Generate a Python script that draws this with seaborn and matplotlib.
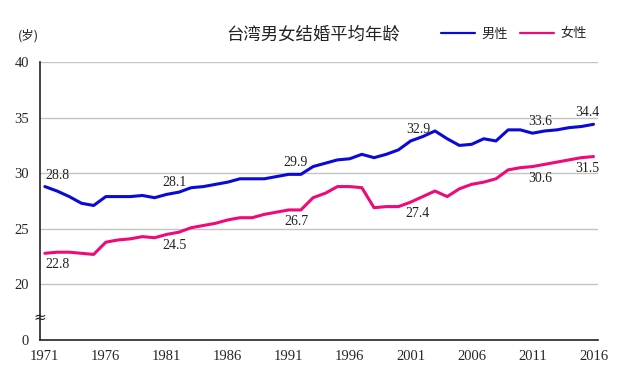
import pandas as pd
import seaborn as sns
import matplotlib.pyplot as plt
from matplotlib.lines import Line2D

years = list(range(1971, 2017))
male = [28.8, 28.4, 27.9, 27.3, 27.1, 27.9, 27.9, 27.9, 28.0, 27.8,
        28.1, 28.3, 28.7, 28.8, 29.0, 29.2, 29.5, 29.5, 29.5, 29.7,
        29.9, 29.9, 30.6, 30.9, 31.2, 31.3, 31.7, 31.4, 31.7, 32.1,
        32.9, 33.3, 33.8, 33.1, 32.5, 32.6, 33.1, 32.9, 33.9, 33.9,
        33.6, 33.8, 33.9, 34.1, 34.2, 34.4]
female = [22.8, 22.9, 22.9, 22.8, 22.7, 23.8, 24.0, 24.1, 24.3, 24.2,
          24.5, 24.7, 25.1, 25.3, 25.5, 25.8, 26.0, 26.0, 26.3, 26.5,
          26.7, 26.7, 27.8, 28.2, 28.8, 28.8, 28.7, 26.9, 27.0, 27.0,
          27.4, 27.9, 28.4, 27.9, 28.6, 29.0, 29.2, 29.5, 30.3, 30.5,
          30.6, 30.8, 31.0, 31.2, 31.4, 31.5]
label_years = [1971, 1981, 1991, 2001, 2011, 2016]
series_names = ['男性', '女性']

df = pd.DataFrame({
    'year': years * 2,
    'age': male + female,
    'sex': [series_names[0]] * len(years) + [series_names[1]] * len(years),
})

sns.set_style('white')
plt.rcParams['font.family'] = ['Noto Sans CJK SC', 'DejaVu Sans']

blue = '#0a0ad8'
pink = '#ee0a78'
serif = 'Liberation Serif'

fig = plt.figure(figsize=(6.4, 3.77), dpi=100)
ax = fig.add_axes([0.0625, 0.098, 0.8715, 0.7375])

sns.lineplot(data=df, x='year', y='age', hue='sex',
             palette=[blue, pink], linewidth=2.2, legend=False, ax=ax)

ax.set_xlim(1970.6, 2016.35)
ax.set_ylim(15, 40)
ax.set_yticks([15, 20, 25, 30, 35, 40])
ax.set_yticklabels(['0', '20', '25', '30', '35', '40'], family=serif, fontsize=10.5)
ax.set_xticks(list(range(1971, 2017, 5)))
ax.set_xticks(years, minor=True)
ax.set_xticklabels([str(y) for y in range(1971, 2017, 5)], family=serif, fontsize=10.5)
ax.tick_params(axis='x', which='both', direction='in', length=3, width=0.8, pad=7)
ax.tick_params(axis='y', direction='out', length=2, width=0.8, pad=6)
ax.set_xlabel('')
ax.set_ylabel('')

for v in [20, 25, 30, 35, 40]:
    ax.axhline(v, color='#c4c4c4', linewidth=1, zorder=0)

for s in ['top', 'right']:
    ax.spines[s].set_visible(False)
for s in ['left', 'bottom']:
    ax.spines[s].set_color('#222222')
    ax.spines[s].set_linewidth(1.2)

# axis break mark
ax.text(1970.6, 17.0, '≈', ha='center', va='center', fontsize=11,
        color='#222222', family='DejaVu Sans')

# value labels
for y in label_years:
    i = years.index(y)
    m, f = male[i], female[i]
    dx = 1.0 if y == 1971 else (-0.5 if y == 2016 else 0.6)
    ax.text(y + dx, m + 0.45, f'{m:.1f}', ha='center', va='bottom',
            family=serif, fontsize=10, color='#222222')
    ax.text(y + dx, f - 0.45, f'{f:.1f}', ha='center', va='top',
            family=serif, fontsize=10, color='#222222')

fig.text(0.49, 0.907, '台湾男女结婚平均年龄', ha='center', va='center',
         fontsize=12.5, color='#222222')
fig.text(0.028, 0.905, '(岁)', ha='left', va='center', fontsize=9, color='#222222')

handles = [Line2D([], [], color=blue, linewidth=1.6),
           Line2D([], [], color=pink, linewidth=1.6)]
fig.legend(handles, series_names, loc='center left', bbox_to_anchor=(0.67, 0.91),
           ncol=2, frameon=False, handlelength=2.6, handletextpad=0.5,
           columnspacing=0.9, fontsize=9.5)

fig.savefig('out.png', dpi=100, facecolor='white')
